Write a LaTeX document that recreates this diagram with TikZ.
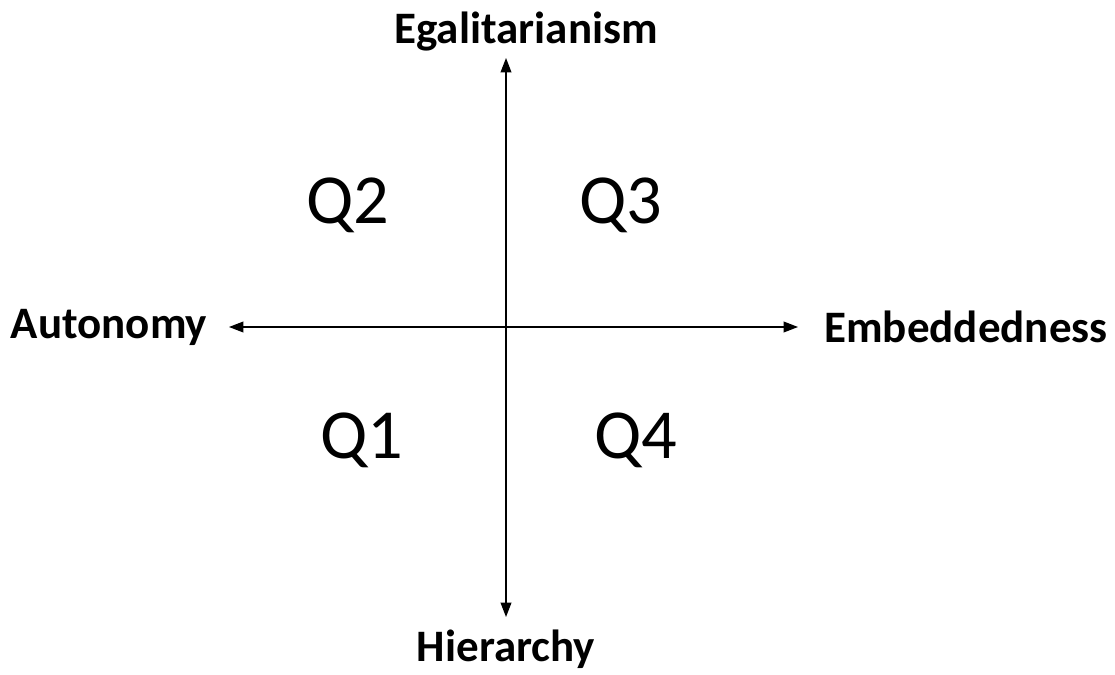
\documentclass[tikz,border=0pt]{standalone}
\usepackage{fontspec}
\setmainfont{Carlito}
\usetikzlibrary{arrows.meta, positioning}

\begin{document}
\begin{tikzpicture}[
  x=0.025cm, y=-0.025cm,
  every node/.style={inner sep=0pt},
  axlbl/.style={font=\fontsize{32}{38}\selectfont\bfseries},
  quad/.style={font=\fontsize{50}{58}\selectfont},
  axis/.style={{Triangle[length=0.36cm, width=0.27cm]}-{Triangle[length=0.36cm, width=0.27cm]}, line width=0.9pt}
]
\useasboundingbox (0,0) rectangle (1115,675);
% axis end points
\coordinate (top) at (506,58);
\coordinate (bot) at (506,617);
\coordinate (lft) at (229,327);
\coordinate (rgt) at (798,327);
% axes
\draw[axis] (bot) -- (top);
\draw[axis] (lft) -- (rgt);
% pole labels
\node[axlbl] (egal) at (526,32) {Egalitarianism};
\node[axlbl] (hier) at (506,649) {Hierarchy};
\node[axlbl] (auto) at (109,327) {Autonomy};
\node[axlbl] (embd) at (966,327) {Embeddedness};
% quadrants
\node[quad] (q2) at (348,205) {Q2};
\node[quad] (q3) at (621,205) {Q3};
\node[quad] (q1) at (362,440) {Q1};
\node[quad] (q4) at (636,440) {Q4};
\end{tikzpicture}
\end{document}
